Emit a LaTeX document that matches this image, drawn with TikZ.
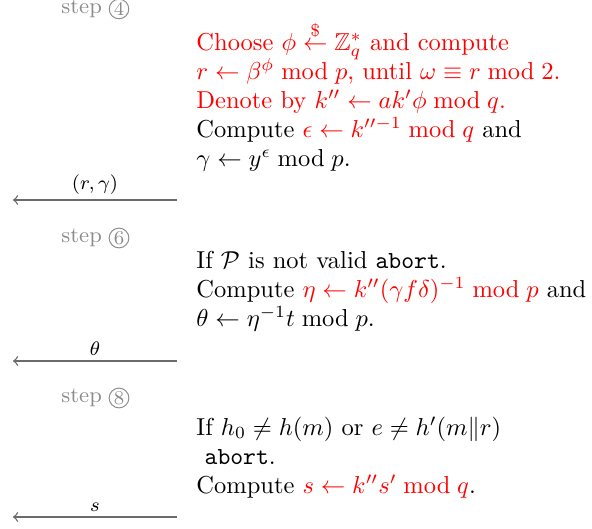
\documentclass[tikz,border=0pt]{standalone}
\usepackage{amsmath,amssymb}
\begin{document}
\begin{tikzpicture}[x=0.408163pt,y=-0.408163pt,
  txt/.style={anchor=base west,inner sep=0pt,font=\normalsize},
  steplbl/.style={anchor=base west,inner sep=0pt,font=\small,text=black!45},
  stepnum/.style={circle,draw=black!45,text=black!45,inner sep=0.4pt,font=\footnotesize,minimum size=6.5pt,line width=0.4pt},
  msg/.style={draw=black!58,line width=0.55pt,-to},
  msglbl/.style={above,font=\footnotesize,inner sep=2pt}]
\useasboundingbox (0,0) rectangle (592,529);

% step 4
\node[steplbl] (st4) at (61,13) {step};
\node[stepnum] (n4) at (119,9) {4};
\node[txt] (b1l1) at (196,50) {\color{red}Choose $\phi \stackrel{\$}{\leftarrow} \mathbb{Z}_q^*$ and compute};
\node[txt] (b1l2) at (196,79) {\color{red}$r \leftarrow \beta^{\phi} \bmod p$, until $\omega \equiv r \bmod 2$.};
\node[txt] (b1l3) at (196,108) {\color{red}Denote by $k'' \leftarrow a k' \phi \bmod q$.};
\node[txt] (b1l4) at (196,137) {Compute \textcolor{red}{$\epsilon \leftarrow k''^{-1} \bmod q$} and};
\node[txt] (b1l5) at (196,166) {$\gamma \leftarrow y^{\epsilon} \bmod p$.};
\coordinate (r1) at (177,200);
\coordinate (l1) at (13,200);
\draw[msg] (r1) -- node[msglbl] (m1) {$(r,\gamma)$} (l1);

% step 6
\node[steplbl] (st6) at (61,242) {step};
\node[stepnum] (n6) at (119,238) {6};
\node[txt] (b2l1) at (196,268) {If $\mathcal{P}$ is not valid \texttt{abort}.};
\node[txt] (b2l2) at (196,297) {Compute \textcolor{red}{$\eta \leftarrow k''(\gamma f \delta)^{-1} \bmod p$} and};
\node[txt] (b2l3) at (196,326) {$\theta \leftarrow \eta^{-1} t \bmod p$.};
\coordinate (r2) at (177,361);
\coordinate (l2) at (13,361);
\draw[msg] (r2) -- node[msglbl] (m2) {$\theta$} (l2);

% step 8
\node[steplbl] (st8) at (61,402) {step};
\node[stepnum] (n8) at (119,398) {8};
\node[txt] (b3l1) at (196,435) {If $h_0 \neq h(m)$ or $e \neq h'(m\|r)$};
\node[txt] (b3l2) at (196,464) {~\texttt{abort}.};
\node[txt] (b3l3) at (196,493) {Compute \textcolor{red}{$s \leftarrow k'' s' \bmod q$}.};
\coordinate (r3) at (177,517);
\coordinate (l3) at (13,517);
\draw[msg] (r3) -- node[msglbl] (m3) {$s$} (l3);
\end{tikzpicture}
\end{document}
